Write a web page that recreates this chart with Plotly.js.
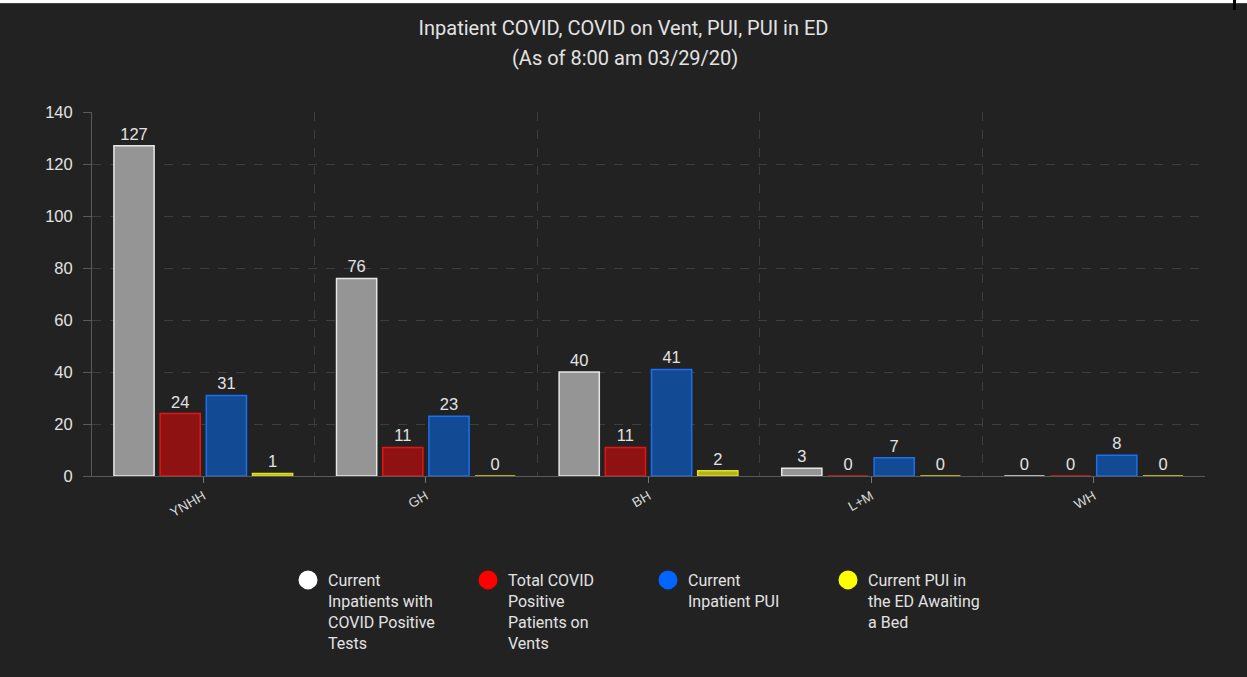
<!DOCTYPE html>
<html>
<head>
<meta charset="utf-8">
<script src="https://cdn.plot.ly/plotly-3.0.1.min.js"></script>
<style>
  html, body { margin: 0; padding: 0; background: #222222; }
  #chart { width: 1247px; height: 677px; }
  #topstrip { position: absolute; left: 0; top: 0; width: 1247px; height: 3px; background: #ffffff; border-bottom: 1px solid #444; }
  #mark { position: absolute; left: 1233px; top: 0; width: 3px; height: 10px; background: #000; }
</style>
</head>
<body>
<div id="chart"></div>
<div id="topstrip"></div>
<div id="mark"></div>
<script>
const categories = ['YNHH', 'GH', 'BH', 'L+M', 'WH'];
const inpatientsPositive = [127, 76, 40, 3, 0];
const ventPatients = [24, 11, 11, 0, 0];
const inpatientPUI = [31, 23, 41, 7, 8];
const edAwaitingBed = [1, 0, 2, 0, 0];

const seriesNames = [
  'Current<br>Inpatients with<br>COVID Positive<br>Tests',
  'Total COVID<br>Positive<br>Patients on<br>Vents',
  'Current<br>Inpatient PUI',
  'Current PUI in<br>the ED Awaiting<br>a Bed'
];
const seriesValues = [inpatientsPositive, ventPatients, inpatientPUI, edAwaitingBed];
const fillColors = ['#959595', '#8f1212', '#124a94', '#b4b41c'];
const lineColors = ['#e6e6e6', '#e81414', '#1a70f0', '#dede22'];
const legendColors = ['#ffffff', '#ff0000', '#0066ff', '#ffff00'];

const textColor = '#e2e2e2';
const tickFont = { family: 'Liberation Sans, Arial, sans-serif', size: 16.5, color: textColor };
const narrowFont = 'Roboto, Liberation Sans, sans-serif';

const traces = [];
seriesValues.forEach((vals, i) => {
  traces.push({
    type: 'bar',
    x: categories,
    y: vals,
    name: seriesNames[i],
    showlegend: false,
    marker: { color: fillColors[i], line: { color: lineColors[i], width: 1.5 } },
    text: vals.map(String),
    textposition: 'outside',
    textfont: tickFont,
    constraintext: 'none',
    cliponaxis: false,
    hoverinfo: 'x+y'
  });
});
seriesNames.forEach((nm, i) => {
  traces.push({
    type: 'scatter',
    mode: 'markers',
    x: [null],
    y: [null],
    xaxis: 'x2',
    name: nm,
    showlegend: true,
    marker: { symbol: 'circle', size: 16, color: legendColors[i], line: { color: legendColors[i], width: 3 } }
  });
});

const layout = {
  width: 1247,
  height: 677,
  paper_bgcolor: '#222222',
  plot_bgcolor: '#222222',
  margin: { l: 92, r: 42, t: 112, b: 201 },
  barmode: 'group',
  bargap: 0.17,
  bargroupgap: 0.13,
  title: {
    text: 'Inpatient COVID, COVID on Vent, PUI, PUI in ED',
    font: { family: narrowFont, size: 20, color: textColor },
    x: 0.5, xref: 'container', xanchor: 'center',
    y: 1 - 28 / 677, yref: 'container', yanchor: 'middle'
  },
  annotations: [{
    text: '(As of 8:00 am 03/29/20)',
    xref: 'paper', yref: 'paper',
    x: (625 - 92) / 1113, y: 1 + (112 - 58) / 364,
    xanchor: 'center', yanchor: 'middle',
    showarrow: false,
    font: { family: narrowFont, size: 20, color: textColor }
  }],
  xaxis: {
    type: 'category',
    range: [-0.5, 4.5],
    showgrid: false,
    zeroline: false,
    showline: true,
    linecolor: '#595959',
    linewidth: 1,
    ticks: 'outside',
    ticklen: 6,
    tickcolor: '#777777',
    tickangle: -30,
    tickfont: { family: 'Liberation Sans, Arial, sans-serif', size: 13.5, color: '#d8d8d8' },
    fixedrange: true
  },
  xaxis2: {
    overlaying: 'x',
    type: 'linear',
    range: [-0.5, 4.5],
    tick0: -0.5,
    dtick: 1,
    showgrid: true,
    gridcolor: '#3e3e3e',
    griddash: 'dash',
    gridwidth: 1,
    showticklabels: false,
    ticks: '',
    zeroline: false,
    showline: false
  },
  yaxis: {
    range: [0, 140],
    dtick: 20,
    showgrid: true,
    gridcolor: '#3e3e3e',
    griddash: 'dash',
    zeroline: false,
    showline: true,
    linecolor: '#595959',
    ticks: 'outside',
    ticklen: 8,
    tickcolor: '#595959',
    ticklabelstandoff: 7,
    tickfont: tickFont,
    fixedrange: true
  },
  legend: {
    orientation: 'h',
    x: (288 - 92) / 1113,
    xanchor: 'left',
    y: -(563 - 476) / 364,
    yanchor: 'top',
    valign: 'top',
    entrywidth: 135,
    entrywidthmode: 'pixels',
    itemwidth: 30,
    bgcolor: 'rgba(0,0,0,0)',
    font: { family: narrowFont, size: 16, color: textColor }
  },
  showlegend: true
};

Plotly.newPlot('chart', traces, layout, { displayModeBar: false, staticPlot: true });
</script>
</body>
</html>
